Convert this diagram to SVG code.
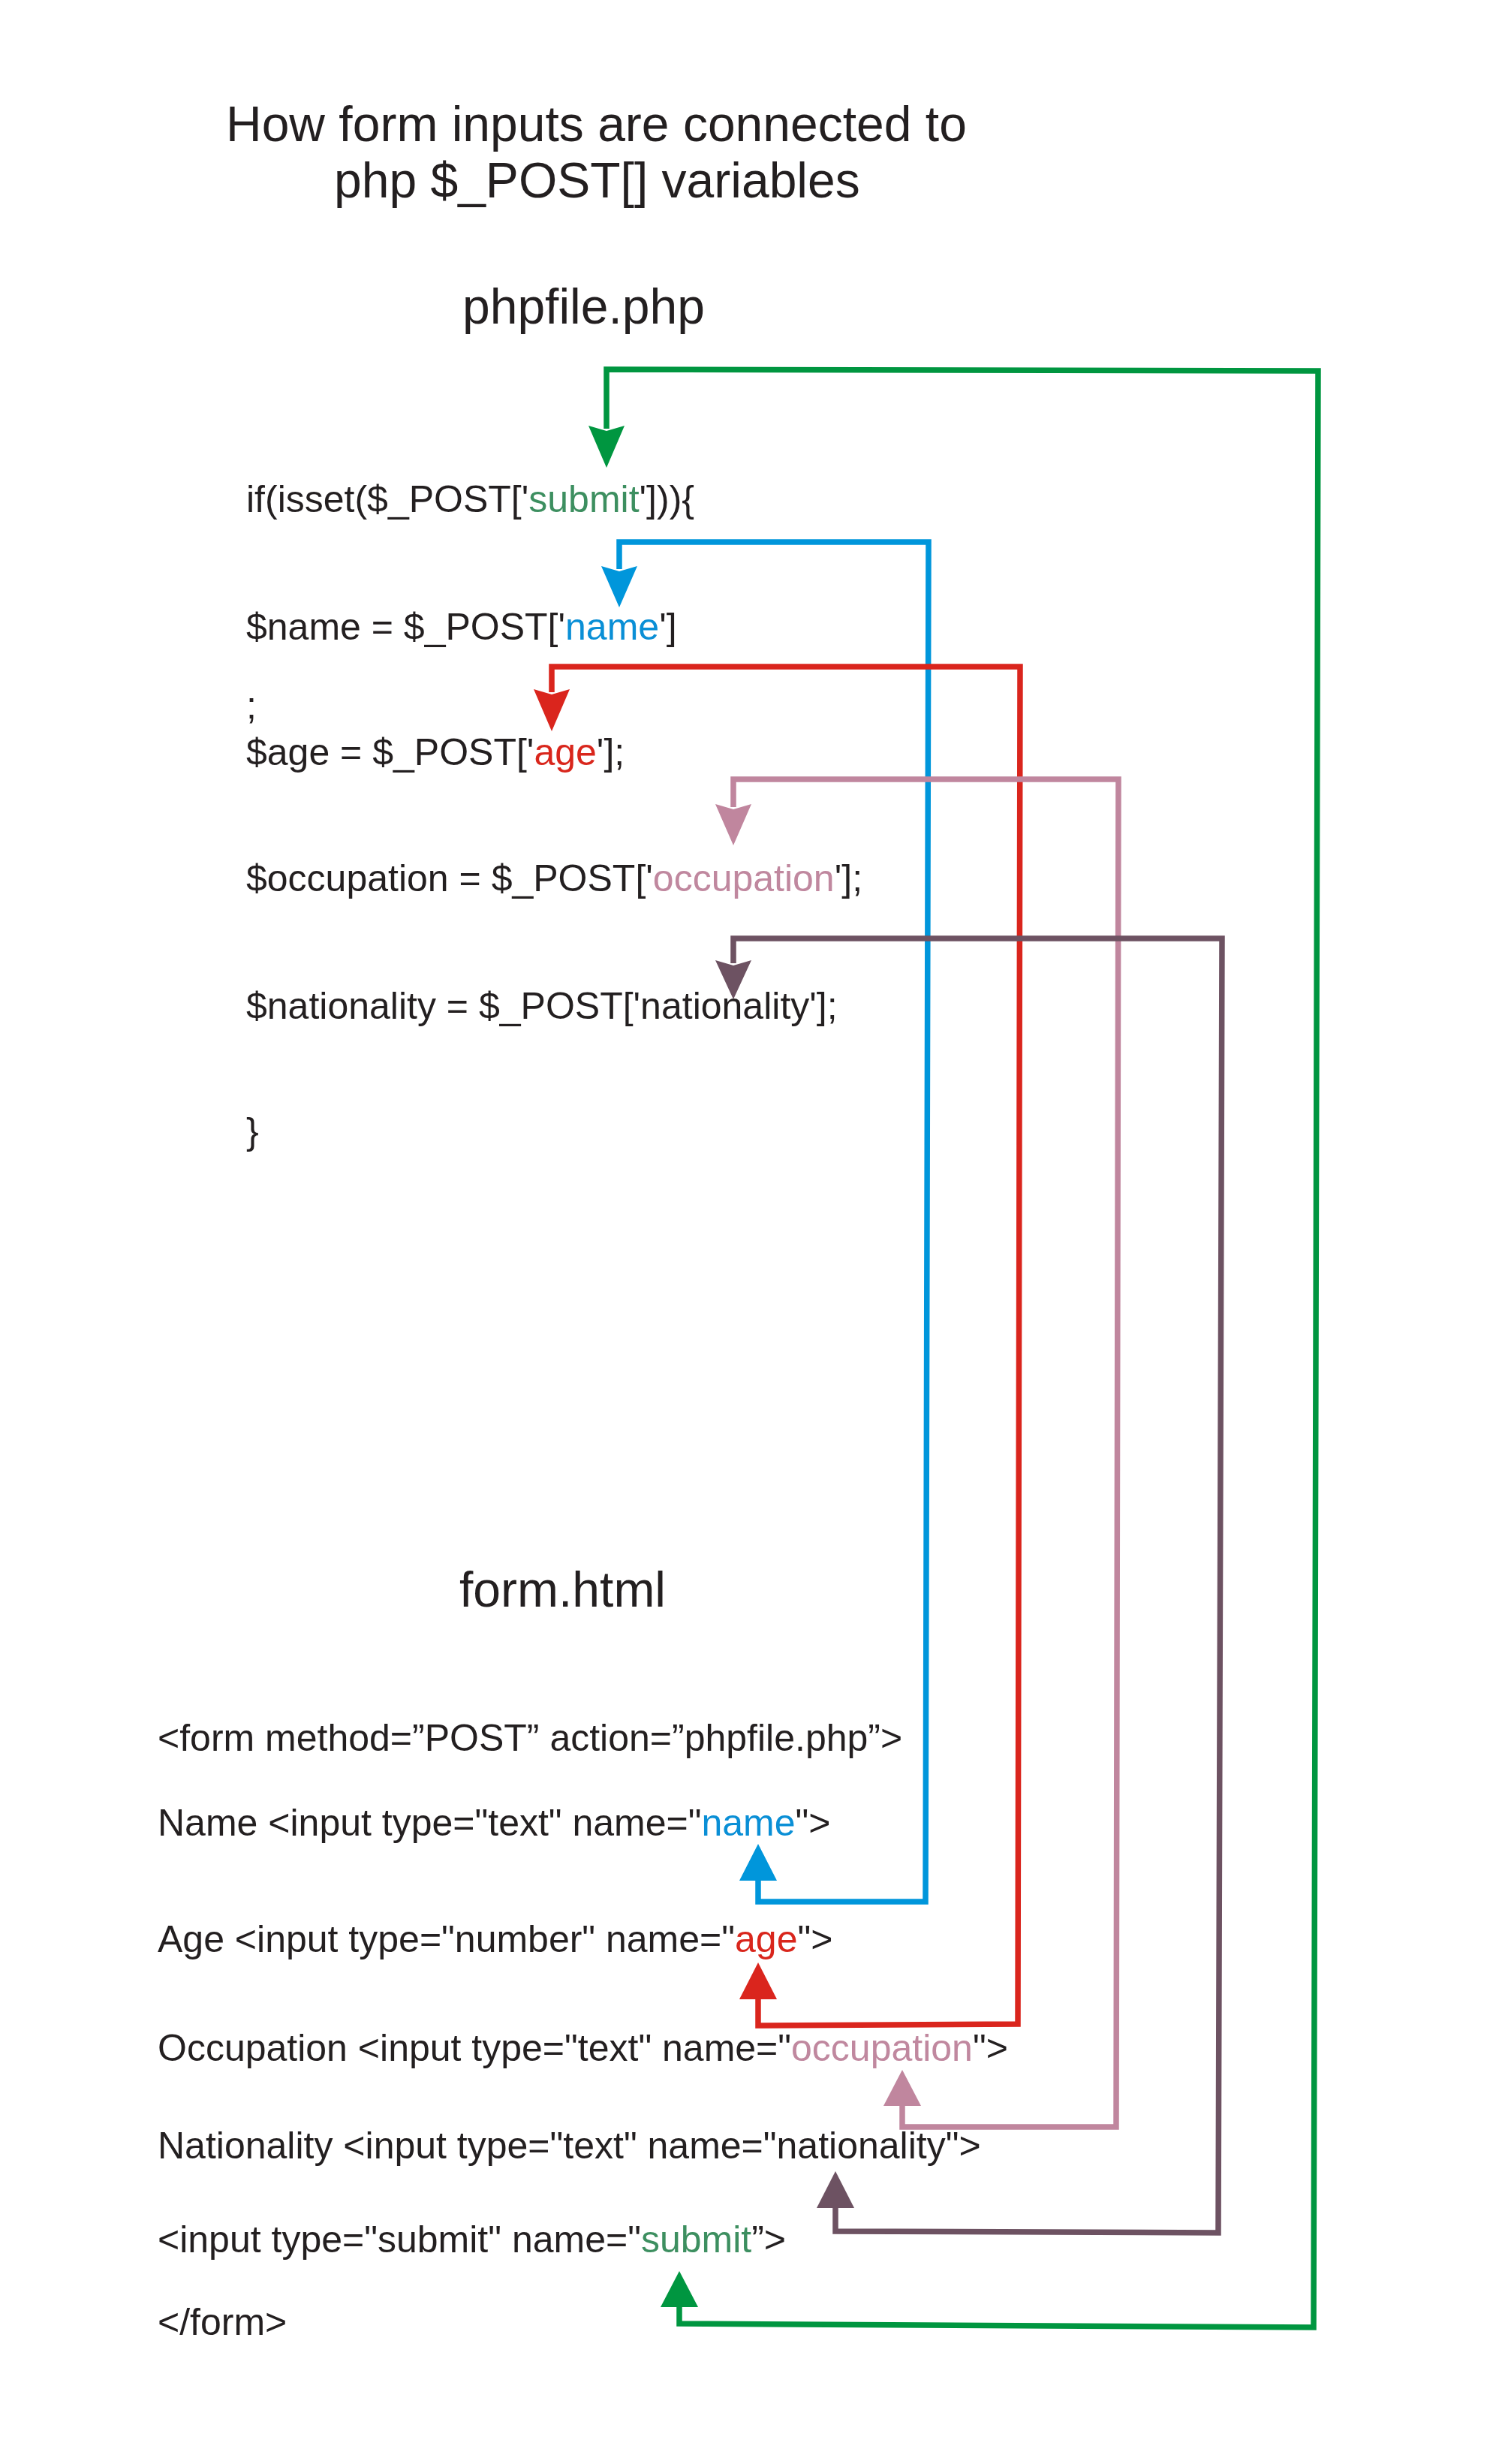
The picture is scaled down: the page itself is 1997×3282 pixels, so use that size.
<svg xmlns="http://www.w3.org/2000/svg" width="1997" height="3282" viewBox="0 0 1997 3282">
<style>
text{font-family:"Liberation Sans",Arial,sans-serif;fill:#231f20}
.h{font-size:66px}
.c{font-size:50px}
.tg{fill:#3d8f60}.tb{fill:#0a8fd6}.tr{fill:#d9261c}.tp{fill:#c0889f}
.ln{fill:none;stroke-width:7.5;stroke-linejoin:miter}
.g{stroke:#009640}.b{stroke:#0096db}.r{stroke:#da251d}.p{stroke:#c0869e}.m{stroke:#6d5262}
.fg{fill:#009640}.fb{fill:#0096db}.fr{fill:#da251d}.fp{fill:#c0869e}.fm{fill:#6d5262}
</style>
<rect width="1997" height="3282" fill="#ffffff"/>
<g id="title">
<text class="h" x="301" y="188">How form inputs are connected to</text>
<text class="h" x="445" y="263">php $_POST[] variables</text>
</g>
<g id="phpfile-label"><text class="h" x="616" y="431">phpfile.php</text></g>
<g id="php-if"><text class="c" x="328" y="682">if(isset($_POST['<tspan class="tg">submit</tspan>'])){</text></g>
<g id="php-name"><text class="c" x="328" y="852">$name = $_POST['<tspan class="tb">name</tspan>']</text></g>
<g id="php-semicolon"><text class="c" x="328" y="957">;</text></g>
<g id="php-age"><text class="c" x="328" y="1019">$age = $_POST['<tspan class="tr">age</tspan>'];</text></g>
<g id="php-occupation"><text class="c" x="328" y="1187">$occupation = $_POST['<tspan class="tp">occupation</tspan>'];</text></g>
<g id="php-nationality"><text class="c" x="328" y="1357">$nationality = $_POST['nationality'];</text></g>
<g id="php-close"><text class="c" x="328" y="1524">}</text></g>
<g id="form-label"><text class="h" x="612" y="2140">form.html</text></g>
<g id="form-open"><text class="c" x="210" y="2332">&lt;form method=”POST” action=”phpfile.php”&gt;</text></g>
<g id="form-name"><text class="c" x="210" y="2445">Name &lt;input type="text" name="<tspan class="tb">name</tspan>"&gt;</text></g>
<g id="form-age"><text class="c" x="210" y="2600">Age &lt;input type="number" name="<tspan class="tr">age</tspan>"&gt;</text></g>
<g id="form-occupation"><text class="c" x="210" y="2745">Occupation &lt;input type="text" name="<tspan class="tp">occupation</tspan>"&gt;</text></g>
<g id="form-nationality"><text class="c" x="210" y="2875">Nationality &lt;input type="text" name="nationality"&gt;</text></g>
<g id="form-submit"><text class="c" x="210" y="3000">&lt;input type="submit" name="<tspan class="tg">submit</tspan>”&gt;</text></g>
<g id="form-close"><text class="c" x="210" y="3110">&lt;/form&gt;</text></g>
<g id="connectors">
<polyline class="ln b" points="1010,2502 1010,2533 1233,2533 1237,722 825,722 825,758"/>
<polygon class="fb" points="801,754 825,761 849,754 825,809"/>
<polygon class="fb" points="985,2505 1035,2505 1010,2456"/>
<polyline class="ln r" points="1010,2660 1010,2698 1356,2696 1359,888 735,888 735,922"/>
<polygon class="fr" points="711,918 735,925 759,918 735,974"/>
<polygon class="fr" points="985,2663 1035,2663 1010,2614"/>
<polyline class="ln p" points="1202,2802 1202,2833 1487,2833 1490,1038 977,1038 977,1075"/>
<polygon class="fp" points="953,1071 977,1078 1001,1071 977,1126"/>
<polygon class="fp" points="1177,2805 1227,2805 1202,2757"/>
<polyline class="ln m" points="1113,2938 1113,2972 1623,2974 1628,1250 977,1250 977,1283"/>
<polygon class="fm" points="953,1279 977,1286 1001,1279 977,1331"/>
<polygon class="fm" points="1088,2941 1138,2941 1113,2892"/>
<polyline class="ln g" points="905,3070 905,3095 1750,3100 1756,494 808,492 808,571"/>
<polygon class="fg" points="784,567 808,574 832,567 808,623"/>
<polygon class="fg" points="880,3073 930,3073 905,3025"/>
</g>
</svg>
